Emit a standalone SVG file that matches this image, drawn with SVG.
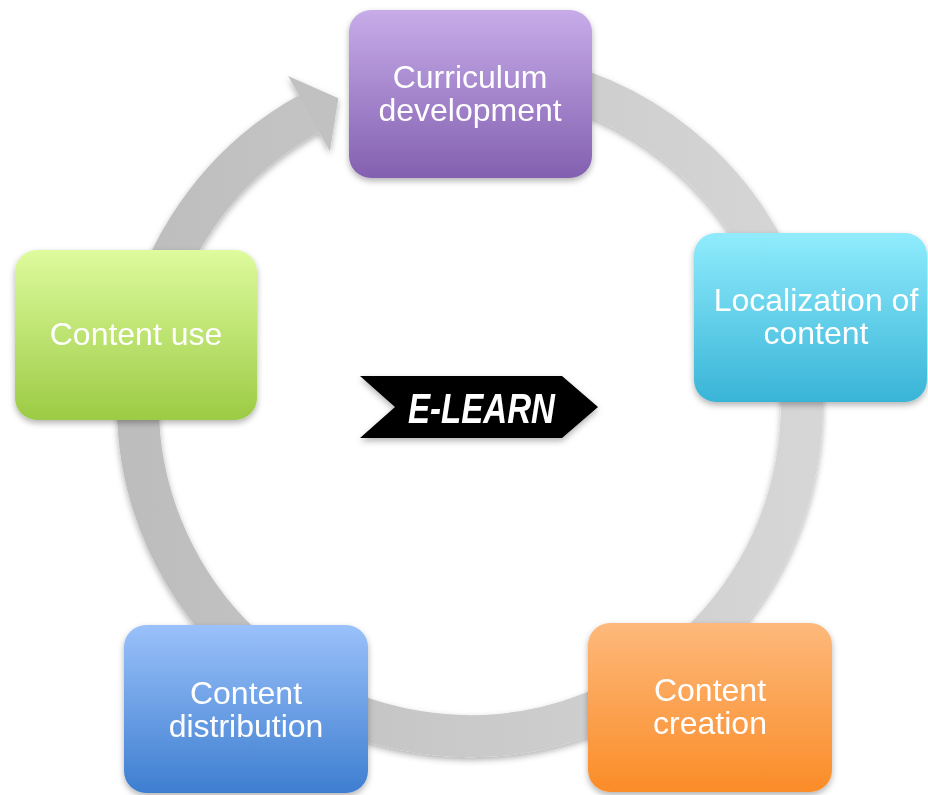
<svg xmlns="http://www.w3.org/2000/svg" width="928" height="795" viewBox="0 0 928 795">
<defs>
<style>
.lbl{font-family:"Liberation Sans",Arial,sans-serif;font-size:32px;fill:#ffffff;text-anchor:middle}
.box{filter:url(#sh)}
</style>
<filter id="sh" x="-10%" y="-10%" width="120%" height="130%">
<feDropShadow dx="0" dy="3" stdDeviation="3" flood-color="#000" flood-opacity="0.3"/>
</filter>
<linearGradient id="ring" x1="0" y1="0" x2="1" y2="0">
<stop offset="0" stop-color="#bdbdbd"/>
<stop offset="1" stop-color="#d6d6d6"/>
</linearGradient>
<linearGradient id="gPurple" x1="0" y1="0" x2="0" y2="1"><stop offset="0" stop-color="#c7ace9"/><stop offset="1" stop-color="#8360b0"/></linearGradient>
<linearGradient id="gCyan" x1="0" y1="0" x2="0" y2="1"><stop offset="0" stop-color="#90ecfd"/><stop offset="1" stop-color="#39b4d7"/></linearGradient>
<linearGradient id="gOrange" x1="0" y1="0" x2="0" y2="1"><stop offset="0" stop-color="#fdb97b"/><stop offset="1" stop-color="#fb8c28"/></linearGradient>
<linearGradient id="gBlue" x1="0" y1="0" x2="0" y2="1"><stop offset="0" stop-color="#9ac1fa"/><stop offset="1" stop-color="#3e7ed0"/></linearGradient>
<linearGradient id="gGreen" x1="0" y1="0" x2="0" y2="1"><stop offset="0" stop-color="#defb9d"/><stop offset="1" stop-color="#9ccb45"/></linearGradient>
</defs>
<rect width="928" height="795" fill="#ffffff"/>
<g id="connectors" class="box">
<path d="M384.1,83.3 A332,332 0 1 1 311.6,112.2" fill="none" stroke="url(#ring)" stroke-width="42"/>
<polygon points="288.2,76.0 338.3,98.2 329.9,151.2" fill="#c1c1c1"/>
</g>
<g id="curriculum" class="box">
<rect x="349" y="10" width="243" height="168" rx="22" fill="url(#gPurple)"/>
<text class="lbl" x="470" y="88">Curriculum</text>
<text class="lbl" x="470" y="121">development</text>
</g>
<g id="localization" class="box">
<rect x="694" y="233" width="233" height="169" rx="22" fill="url(#gCyan)"/>
<text class="lbl" x="816" y="311">Localization of</text>
<text class="lbl" x="816" y="344">content</text>
</g>
<g id="creation" class="box">
<rect x="588" y="623" width="244" height="169" rx="22" fill="url(#gOrange)"/>
<text class="lbl" x="710" y="701">Content</text>
<text class="lbl" x="710" y="734">creation</text>
</g>
<g id="distribution" class="box">
<rect x="124" y="625" width="244" height="168" rx="22" fill="url(#gBlue)"/>
<text class="lbl" x="246" y="704">Content</text>
<text class="lbl" x="246" y="737">distribution</text>
</g>
<g id="use" class="box">
<rect x="15" y="250" width="242" height="170" rx="22" fill="url(#gGreen)"/>
<text class="lbl" x="136" y="345">Content use</text>
</g>
<g id="elearn" class="box">
<polygon points="360,376 562,376 598,407 562,438 360,438 395,407" fill="#000000"/>
<text x="408" y="423" font-family="Liberation Sans,Arial,sans-serif" font-size="42" font-weight="bold" font-style="italic" fill="#ffffff" textLength="147" lengthAdjust="spacingAndGlyphs">E-LEARN</text>
</g>
</svg>
